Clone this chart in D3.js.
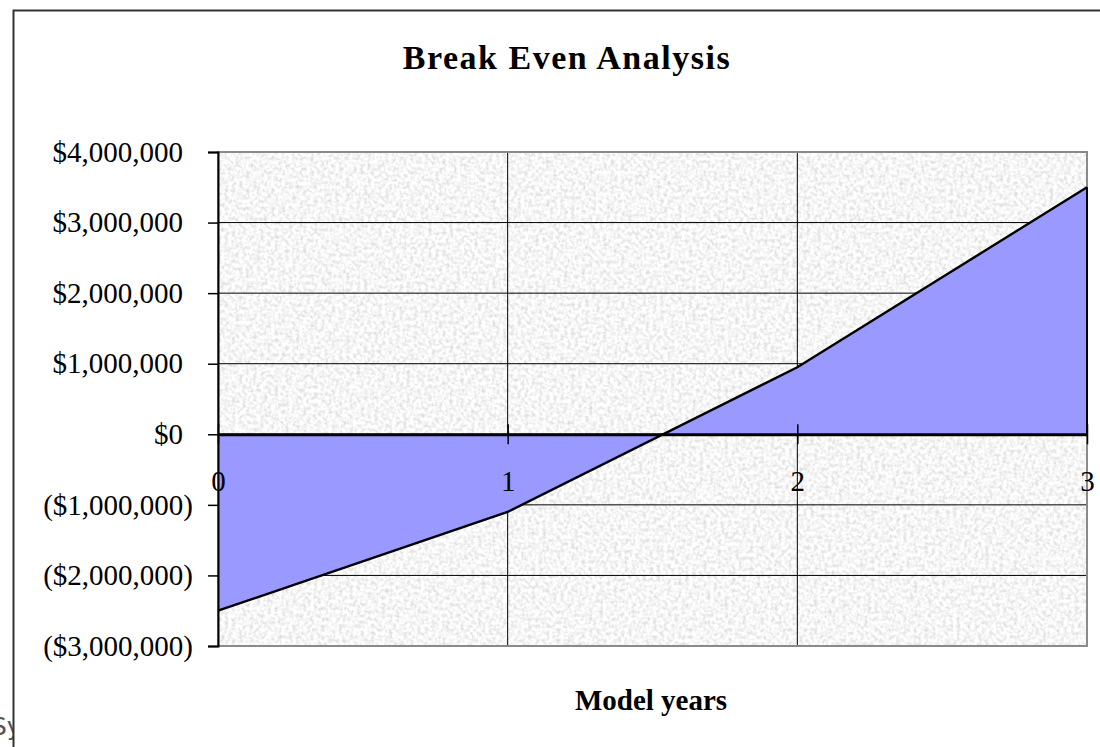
<!DOCTYPE html>
<html>
<head>
<meta charset="utf-8">
<script src="https://cdn.jsdelivr.net/npm/d3@7"></script>
<style>
  body { margin: 0; background: #fff; }
  svg { display: block; }
</style>
</head>
<body>
<svg id="chart" width="1100" height="747"></svg>
<script>
// chart data
const years = [0, 1, 2, 3]
const netValue = [-2500000, -1100000, 950000, 3500000]
const yTicks = [-3000000, -2000000, -1000000, 0, 1000000, 2000000, 3000000, 4000000]
const chartTitle = "Break Even Analysis"
const xTitle = "Model years"

const svg = d3.select("#chart")
const plotL = 218, plotR = 1087, plotT = 152, plotB = 646

const x = d3.scaleLinear().domain([0, 3]).range([plotL, plotR])
const y = d3.scaleLinear().domain([-3000000, 4000000]).range([plotB, plotT])

const money = d3.format("$,")
const fmtY = v => v < 0 ? `(${money(-v)})` : money(v)

// granite-like plot background
const defs = svg.append("defs")
const filt = defs.append("filter").attr("id", "granite")
  .attr("x", 0).attr("y", 0).attr("width", 1).attr("height", 1)
filt.append("feTurbulence")
  .attr("type", "fractalNoise").attr("baseFrequency", 0.28)
  .attr("numOctaves", 2).attr("seed", 3).attr("result", "n")
filt.append("feColorMatrix").attr("in", "n").attr("type", "matrix")
  .attr("values", "0.6 0 0 0 0.62  0.6 0 0 0 0.62  0.6 0 0 0 0.62  0 0 0 0 1")
defs.append("clipPath").attr("id", "leftClip")
  .append("rect").attr("x", 0).attr("y", 0).attr("width", 13).attr("height", 747)

svg.append("rect")
  .attr("x", plotL).attr("y", plotT)
  .attr("width", plotR - plotL).attr("height", plotB - plotT)
  .attr("filter", "url(#granite)")

// grid lines
svg.append("g").selectAll("line").data(yTicks).join("line")
  .attr("x1", plotL).attr("x2", plotR)
  .attr("y1", d => y(d)).attr("y2", d => y(d))
  .attr("stroke", "#000").attr("stroke-width", 1)
svg.append("g").selectAll("line").data(years.slice(1, -1)).join("line")
  .attr("x1", d => x(d)).attr("x2", d => x(d))
  .attr("y1", plotT).attr("y2", plotB)
  .attr("stroke", "#000").attr("stroke-width", 1)

// plot border (grey)
svg.append("rect")
  .attr("x", plotL).attr("y", plotT)
  .attr("width", plotR - plotL).attr("height", plotB - plotT)
  .attr("fill", "none").attr("stroke", "#8a8a8a").attr("stroke-width", 2)

// area
const area = d3.area()
  .x((d, i) => x(years[i]))
  .y0(y(0))
  .y1(d => y(d))
svg.append("path").datum(netValue)
  .attr("d", area)
  .attr("fill", "#9999ff")

const line = d3.line()
  .x((d, i) => x(years[i]))
  .y(d => y(d))
svg.append("path").datum(netValue)
  .attr("d", line)
  .attr("fill", "none").attr("stroke", "#000").attr("stroke-width", 2.4)

// right edge of the area
svg.append("line")
  .attr("x1", x(3)).attr("x2", x(3))
  .attr("y1", y(0)).attr("y2", y(netValue[3]))
  .attr("stroke", "#000").attr("stroke-width", 2)

// y axis
const yAxis = svg.append("g")
  .attr("transform", `translate(${plotL},0)`)
  .call(d3.axisLeft(y).tickValues(yTicks).tickFormat(fmtY).tickSize(10).tickPadding(15))
yAxis.select(".domain").attr("stroke", "#000").attr("stroke-width", 2)
yAxis.selectAll(".tick line").attr("stroke", "#000").attr("stroke-width", 1.5)
yAxis.selectAll("text")
  .attr("font-family", "Liberation Serif, Times New Roman, serif")
  .attr("font-size", 29).attr("fill", "#000")
  .attr("dx", d => d >= 0 ? -10 : 0)

// x axis along zero
const xAxis = svg.append("g")
  .attr("transform", `translate(0,${y(0)})`)
  .call(d3.axisBottom(x).tickValues(years).tickFormat(d3.format("d")).tickSizeInner(10).tickSizeOuter(0).tickPadding(26))
xAxis.select(".domain").attr("stroke", "#000").attr("stroke-width", 3)
xAxis.selectAll(".tick line").attr("y1", -10).attr("stroke", "#000").attr("stroke-width", 1.5)
xAxis.selectAll("text")
  .attr("font-family", "Liberation Serif, Times New Roman, serif")
  .attr("font-size", 29).attr("fill", "#000")

// titles
svg.append("text")
  .attr("x", 567).attr("y", 69)
  .attr("text-anchor", "middle")
  .attr("font-family", "Liberation Serif, Times New Roman, serif")
  .attr("font-weight", "bold").attr("font-size", 34)
  .attr("letter-spacing", 1.5)
  .text(chartTitle)
svg.append("text")
  .attr("x", 651).attr("y", 710)
  .attr("text-anchor", "middle")
  .attr("font-family", "Liberation Serif, Times New Roman, serif")
  .attr("font-weight", "bold").attr("font-size", 29)
  .text(xTitle)

// stray label cut off at the left edge, as in the source
svg.append("text")
  .attr("x", -9).attr("y", 735)
  .attr("clip-path", "url(#leftClip)")
  .attr("font-family", "DejaVu Sans, sans-serif")
  .attr("font-size", 25).attr("fill", "#555")
  .text("Sy")

// outer frame
svg.append("path")
  .attr("d", "M13.5,747 V10.5 H1100")
  .attr("fill", "none").attr("stroke", "#333").attr("stroke-width", 2)
</script>
</body>
</html>
